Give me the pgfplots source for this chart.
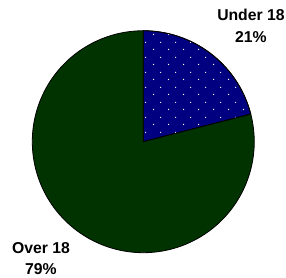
\documentclass[border=0pt]{standalone}
\usepackage{pgfplots}
\pgfplotsset{compat=1.18}
\usepackage{pgfplotstable}
\usepackage{fontspec}
\setmainfont{Liberation Sans}
\usetikzlibrary{patterns}
\definecolor{pienavy}{RGB}{0,0,128}
\definecolor{piegreen}{RGB}{0,51,0}
\pgfdeclarepatternformonly{piedots}{\pgfpoint{0bp}{0bp}}{\pgfpoint{15bp}{15bp}}{\pgfpoint{15bp}{15bp}}{%
  \pgfpathcircle{\pgfpoint{3.75bp}{3.75bp}}{0.75bp}%
  \pgfpathcircle{\pgfpoint{11.25bp}{11.25bp}}{0.75bp}%
  \pgfusepath{fill}}
\pgfplotstableread{
group share
Under18 21
Over18 79
}\piedata
\pgfplotstablegetelem{0}{share}\of\piedata \let\shareA\pgfplotsretval
\pgfplotstablegetelem{1}{share}\of\piedata \let\shareB\pgfplotsretval
\pgfmathsetmacro{\angA}{90-3.6*\shareA}
\pgfmathsetmacro{\angB}{\angA-3.6*\shareB}
\begin{document}
\begin{tikzpicture}
\begin{axis}[
  scale only axis, width=286bp, height=278bp,
  xmin=-1.291, xmax=1.286, ymin=-1.228, ymax=1.277,
  hide axis, clip=false,
  trig format plots=deg,
]
\addplot[draw=black, line width=0.8bp, fill=pienavy,
  postaction={pattern=piedots, pattern color=white},
  domain=\angA:90, samples=60, variable=\t]
  ({cos(t)},{sin(t)}) -- (axis cs:0,0) -- cycle;
\addplot[draw=black, line width=0.8bp, fill=piegreen,
  domain=\angB:\angA, samples=200, variable=\t]
  ({cos(t)},{sin(t)}) -- (axis cs:0,0) -- cycle;
\node[anchor=base, font=\fontsize{15.8}{18}\selectfont\bfseries] at (axis cs:0.970,1.096) {Under 18};
\node[anchor=base, font=\fontsize{15.8}{18}\selectfont\bfseries] at (axis cs:0.970,0.898) {\shareA\%};
\node[anchor=base, font=\fontsize{15.8}{18}\selectfont\bfseries] at (axis cs:-0.922,-1.003) {Over 18};
\node[anchor=base, font=\fontsize{15.8}{18}\selectfont\bfseries] at (axis cs:-0.922,-1.192) {\shareB\%};
\end{axis}
\pgfresetboundingbox
\path[use as bounding box] (current axis.south west) rectangle (current axis.north east);
\end{tikzpicture}
\end{document}
